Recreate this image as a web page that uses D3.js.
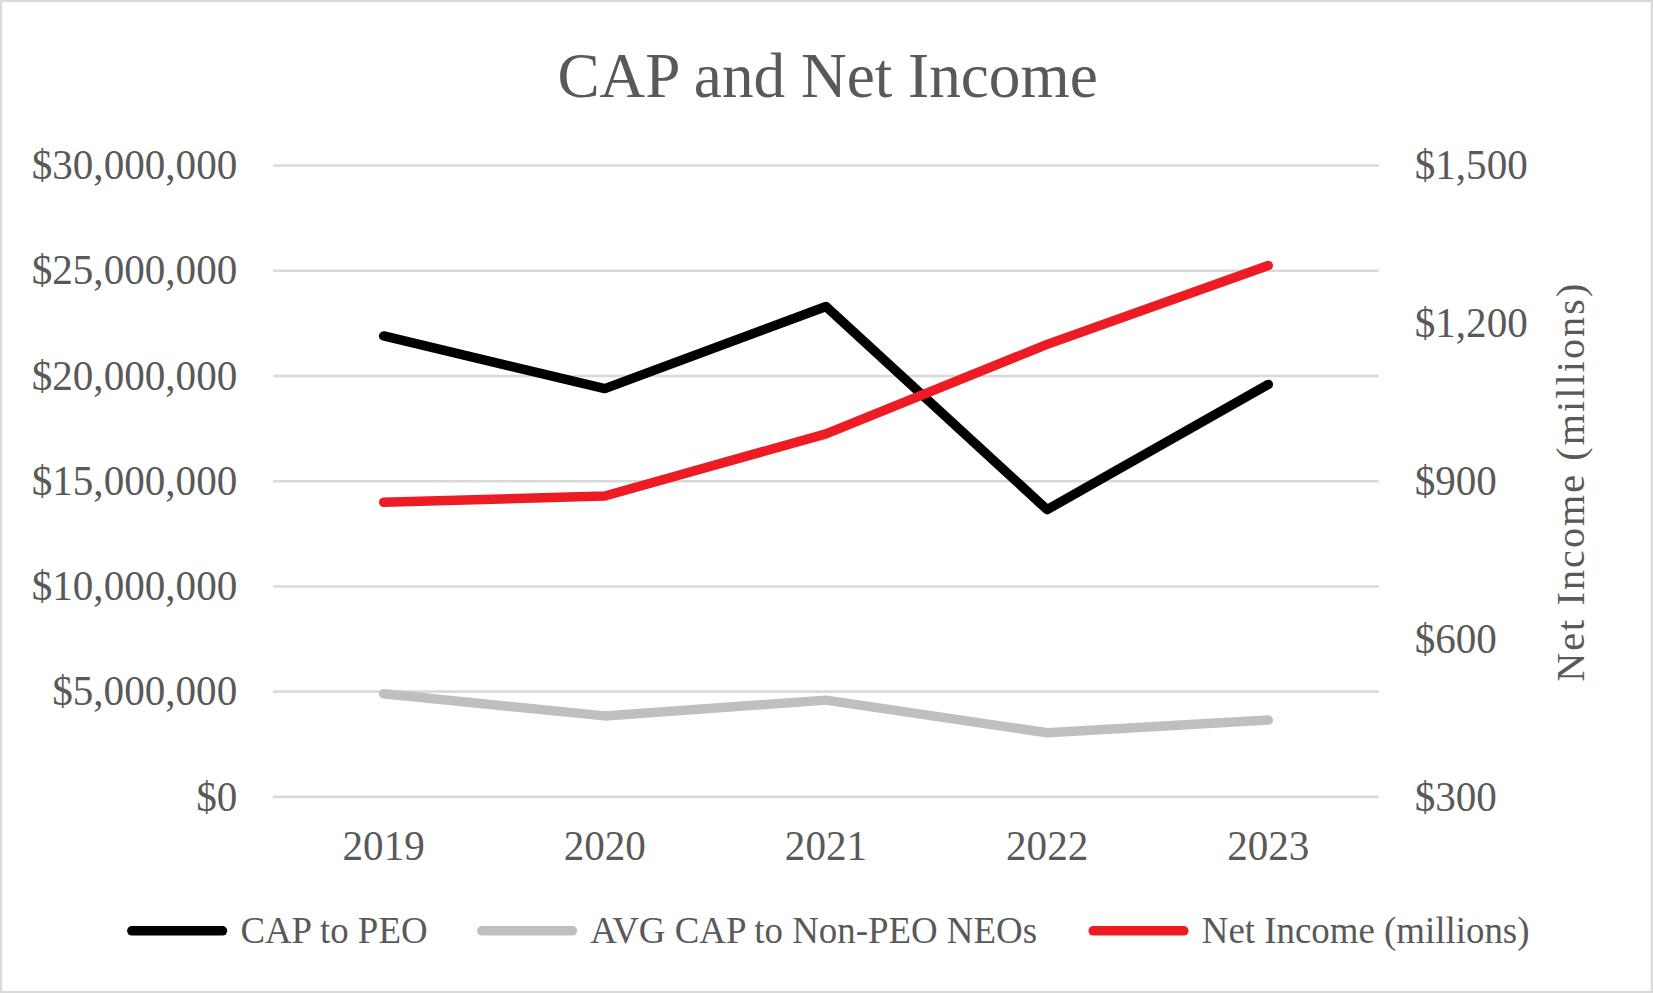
<!DOCTYPE html>
<html>
<head>
<meta charset="utf-8">
<script src="https://cdn.jsdelivr.net/npm/d3@7"></script>
<style>
  body { margin: 0; background: #fff; }
  text { font-family: "Liberation Serif", "Times New Roman", serif; fill: #595959; }
</style>
</head>
<body>
<script>
// data
var years = ["2019", "2020", "2021", "2022", "2023"];
var capPeo = [21900000, 19400000, 23300000, 13650000, 19600000];
var avgCapNeo = [4900000, 3850000, 4600000, 3050000, 3650000];
var netIncome = [860, 872, 990, 1160, 1310];
var leftTicks = [0, 5000000, 10000000, 15000000, 20000000, 25000000, 30000000];
var rightTicks = [300, 600, 900, 1200, 1500];

// drawn in the reference's own pixel space, scaled to the window
var W = 1568, H = 942;
var plotLeft = 259, plotRight = 1308, plotTop = 157, plotBottom = 756;

var svg = d3.select("body").append("svg")
  .attr("width", 1653).attr("height", 993)
  .attr("viewBox", "0 0 " + W + " " + H)
  .style("display", "block");

svg.append("rect")
  .attr("x", 1).attr("y", 1).attr("width", W - 2).attr("height", H - 2)
  .attr("fill", "#fff").attr("stroke", "#d9d9d9").attr("stroke-width", 2);

svg.append("text")
  .attr("x", 785).attr("y", 92)
  .attr("text-anchor", "middle")
  .attr("font-size", "60px")
  .text("CAP and Net Income");

var x = d3.scaleBand().domain(years).range([plotLeft, plotRight]);
var yL = d3.scaleLinear().domain([0, 30000000]).range([plotBottom, plotTop]);
var yR = d3.scaleLinear().domain([300, 1500]).range([plotBottom, plotTop]);

// gridlines
svg.append("g").selectAll("line").data(leftTicks).enter()
  .append("line")
  .attr("x1", plotLeft).attr("x2", plotRight)
  .attr("y1", function(d){ return yL(d); })
  .attr("y2", function(d){ return yL(d); })
  .attr("stroke", "#d9d9d9").attr("stroke-width", 2.5);

var money = function(d){ return "$" + d3.format(",")(d); };

// left axis
var axL = svg.append("g")
  .attr("transform", "translate(" + (plotLeft - 34) + ",0)")
  .call(d3.axisLeft(yL).tickValues(leftTicks).tickSize(0).tickPadding(0).tickFormat(money));
axL.select(".domain").remove();
axL.attr("font-family", null).attr("font-size", null);
axL.selectAll("text").attr("font-size", "39px").attr("fill", "#595959");

// right axis
var axR = svg.append("g")
  .attr("transform", "translate(" + (plotRight + 34) + ",0)")
  .call(d3.axisRight(yR).tickValues(rightTicks).tickSize(0).tickPadding(0).tickFormat(money));
axR.select(".domain").remove();
axR.attr("font-family", null).attr("font-size", null);
axR.selectAll("text").attr("font-size", "39px").attr("fill", "#595959");

// x axis
var axX = svg.append("g")
  .attr("transform", "translate(0," + plotBottom + ")")
  .call(d3.axisBottom(x).tickSize(0).tickPadding(32));
axX.select(".domain").remove();
axX.attr("font-family", null).attr("font-size", null);
axX.selectAll("text").attr("font-size", "39px").attr("fill", "#595959");

// right axis title
svg.append("text")
  .attr("transform", "translate(1503,457) rotate(-90)")
  .attr("text-anchor", "middle")
  .attr("font-size", "38px")
  .attr("letter-spacing", "2px")
  .text("Net Income (millions)");

function cx(i){ return x(years[i]) + x.bandwidth() / 2; }

var series = [
  { name: "CAP to PEO", values: capPeo, y: yL, color: "#000000" },
  { name: "AVG CAP to Non-PEO NEOs", values: avgCapNeo, y: yL, color: "#bfbfbf" },
  { name: "Net Income (millions)", values: netIncome, y: yR, color: "#ed1c24" }
];

series.forEach(function(s){
  var line = d3.line()
    .x(function(d, i){ return cx(i); })
    .y(function(d){ return s.y(d); });
  svg.append("path")
    .datum(s.values)
    .attr("d", line)
    .attr("fill", "none")
    .attr("stroke", s.color)
    .attr("stroke-width", 9)
    .attr("stroke-linecap", "round")
    .attr("stroke-linejoin", "round");
});

// legend
var legendX = [125, 457, 1037];
var leg = svg.append("g").selectAll("g").data(series).enter()
  .append("g")
  .attr("transform", function(d, i){ return "translate(" + legendX[i] + ",883)"; });
leg.append("line")
  .attr("x1", 0).attr("x2", 86).attr("y1", 0).attr("y2", 0)
  .attr("stroke", function(d){ return d.color; })
  .attr("stroke-width", 9)
  .attr("stroke-linecap", "round");
leg.append("text")
  .attr("x", 103).attr("y", 12)
  .attr("font-size", "35px")
  .text(function(d){ return d.name; });
</script>
</body>
</html>
